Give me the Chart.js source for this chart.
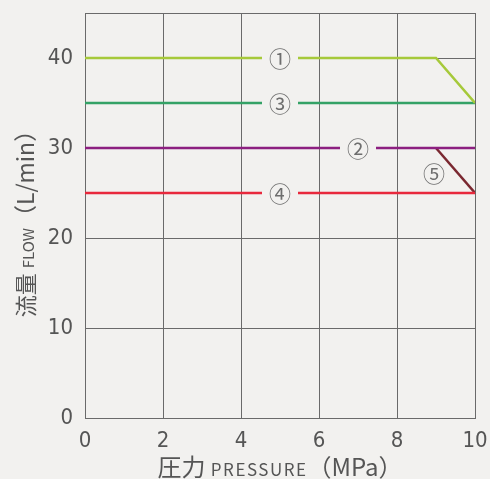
<!DOCTYPE html>
<html>
<head>
<meta charset="utf-8">
<script src="https://cdn.jsdelivr.net/npm/chart.js@4"></script>
<style>
  html, body { margin: 0; padding: 0; background: #f2f1ef; }
  #wrap { width: 490px; height: 479px; }
</style>
</head>
<body>
<div id="wrap"><canvas id="flow"></canvas></div>
<script>
// data
const pressureTicks = [0, 2, 4, 6, 8, 10];
const flowTicks = [0, 10, 20, 30, 40];

const line1X = [0, 9, 10];
const line1Y = [40, 40, 35];
const line2X = [0, 10];
const line2Y = [30, 30];
const line3X = [0, 10];
const line3Y = [35, 35];
const line4X = [0, 10];
const line4Y = [25, 25];
const line5X = [9, 10];
const line5Y = [30, 25];

const markNames = ['①', '②', '③', '④', '⑤'];
const markX = [5, 7, 5, 5, 8.95];
const markY = [40, 30, 35, 25, 27.3];

const BG = '#f2f1ef';
const GRID = '#6a6a6a';
const TEXT = '#555555';

const pts = (xs, ys) => xs.map((x, i) => ({ x: x, y: ys[i] }));

const mk = (xs, ys, color) => ({
    data: pts(xs, ys),
    borderColor: color,
    borderWidth: 2.5,
    pointRadius: 0,
    fill: false,
    tension: 0
});

// draws a title made of pieces in different sizes, centred on 0
const drawParts = (ctx, parts, y) => {
    let w = 0;
    parts.forEach(p => {
        ctx.font = p[0];
        ctx.letterSpacing = p[2] || '0px';
        w += ctx.measureText(p[1]).width;
    });
    let x = -w / 2;
    parts.forEach(p => {
        ctx.font = p[0];
        ctx.letterSpacing = p[2] || '0px';
        ctx.fillText(p[1], x, y);
        x += ctx.measureText(p[1]).width;
    });
    ctx.letterSpacing = '0px';
};

// frame on top, circled markers over the lines, axis titles
const markers = {
    id: 'markers',
    afterDatasetsDraw(chart) {
        const { ctx, chartArea: a, scales } = chart;
        ctx.save();
        ctx.strokeStyle = GRID;
        ctx.lineWidth = 1;
        ctx.beginPath();
        ctx.moveTo(a.left, Math.round(a.top) + 0.5);
        ctx.lineTo(a.right, Math.round(a.top) + 0.5);
        ctx.stroke();

        ctx.font = '22px "Noto Sans CJK JP"';
        ctx.textAlign = 'center';
        ctx.textBaseline = 'middle';
        markNames.forEach((m, i) => {
            const x = scales.x.getPixelForValue(markX[i]);
            const y = scales.y.getPixelForValue(markY[i]);
            if (i !== 4) {
                ctx.fillStyle = BG;
                ctx.fillRect(x - 18, y - 5, 36, 10);
            }
            ctx.fillStyle = '#6e6e6e';
            ctx.fillText(m, x, y + 1);
        });
        ctx.restore();
    },
    afterDraw(chart) {
        const { ctx } = chart;
        ctx.save();
        ctx.fillStyle = TEXT;
        ctx.textBaseline = 'alphabetic';
        ctx.textAlign = 'left';

        const cjk = '"Noto Sans CJK JP"';

        ctx.save();
        ctx.translate(280, 476);
        drawParts(ctx, [
            ['24px ' + cjk, '圧力 '],
            ['17px ' + cjk, 'PRESSURE', '1.5px'],
            ['24px ' + cjk, '（MPa）']
        ], 0);
        ctx.restore();

        ctx.translate(34, 218);
        ctx.rotate(-Math.PI / 2);
        drawParts(ctx, [
            ['22px ' + cjk, '流量 '],
            ['15px ' + cjk, 'FLOW'],
            ['23px ' + cjk, '（L/min）']
        ], 0);
        ctx.restore();
    }
};

new Chart(document.getElementById('flow'), {
    type: 'line',
    data: {
        datasets: [
            mk(line1X, line1Y, '#a6c93a'),
            mk(line3X, line3Y, '#34a266'),
            mk(line2X, line2Y, '#8c1f80'),
            mk(line4X, line4Y, '#e8283c'),
            mk(line5X, line5Y, '#7a2830')
        ]
    },
    options: {
        responsive: true,
        maintainAspectRatio: false,
        animation: false,
        layout: { padding: { top: 13, right: 15, left: 0, bottom: 0 } },
        plugins: {
            legend: { display: false },
            tooltip: { enabled: false }
        },
        scales: {
            x: {
                type: 'linear',
                min: 0,
                max: 10,
                afterFit: s => {
                    s.height = 61;
                    s.paddingLeft = 0;
                    s.paddingRight = 0;
                },
                afterBuildTicks: s => { s.ticks = pressureTicks.map(v => ({ value: v })); },
                grid: { color: GRID, lineWidth: 1, drawTicks: false },
                border: { color: GRID, width: 1 },
                ticks: {
                    color: TEXT,
                    padding: 10,
                    font: { family: '"Liberation Sans Narrow", "DejaVu Sans Condensed", sans-serif', size: 22 }
                }
            },
            y: {
                min: 0,
                max: 45,
                afterFit: s => {
                    s.width = 85;
                    s.paddingTop = 0;
                    s.paddingBottom = 0;
                },
                afterBuildTicks: s => { s.ticks = flowTicks.map(v => ({ value: v })); },
                grid: { color: GRID, lineWidth: 1, drawTicks: false },
                border: { color: GRID, width: 1 },
                ticks: {
                    color: TEXT,
                    padding: 12,
                    font: { family: '"Liberation Sans Narrow", "DejaVu Sans Condensed", sans-serif', size: 22 }
                }
            }
        }
    },
    plugins: [markers]
});
</script>
</body>
</html>
